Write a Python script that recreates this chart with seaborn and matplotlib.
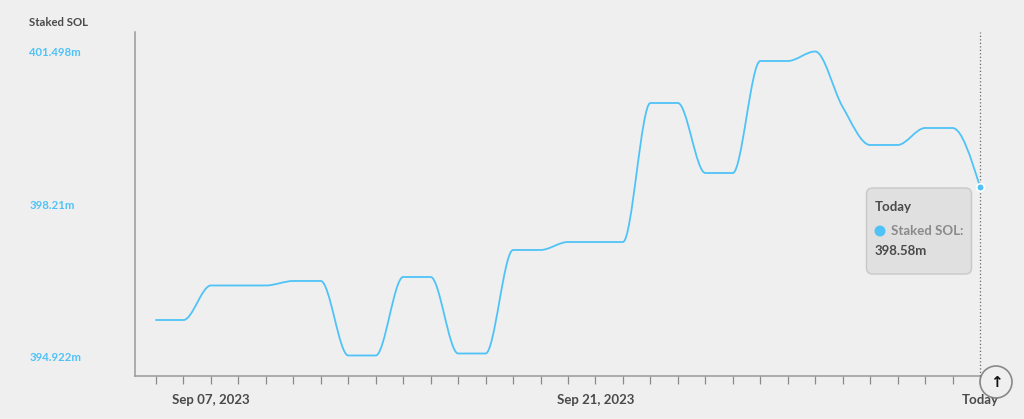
import numpy as np
import pandas as pd
import matplotlib
matplotlib.use("Agg")
import matplotlib.pyplot as plt
import seaborn as sns
from matplotlib.patches import Circle, FancyBboxPatch, PathPatch
from matplotlib.path import Path
from matplotlib.transforms import IdentityTransform

# daily values, millions of SOL
dates = pd.date_range("2023-09-05", "2023-10-05", freq="D")
staked = [395.71, 395.71, 396.454, 396.454, 396.454, 396.551, 396.551, 394.945,
          394.945, 396.637, 396.637, 394.988, 394.988, 397.219, 397.219, 397.391,
          397.391, 397.391, 400.387, 400.387, 398.878, 398.878, 401.292, 401.292,
          401.497, 400.301, 399.482, 399.482, 399.848, 399.848, 398.58]
y_ticks = [394.922, 398.21, 401.498]
y_labels = ["394.922m", "398.21m", "401.498m"]
x_labels = {"2023-09-07": "Sep 07, 2023", "2023-09-21": "Sep 21, 2023", "2023-10-05": "Today"}

BLUE = "#4fc3f7"
BG = "#efefef"
DARK = "#4a4a4a"
W, H = 1024, 419
FONT = "Lato"

sns.set_theme(style="white", rc={"figure.facecolor": BG, "axes.facecolor": BG})
plt.rcParams["font.family"] = [FONT, "DejaVu Sans"]


def monotone_path(xy):
    # same curve the chart library uses between daily points
    x, y = xy[:, 0], xy[:, 1]
    h = np.diff(x)
    s = np.diff(y) / h
    t = np.zeros(len(x))
    for i in range(1, len(x) - 1):
        p = (s[i - 1] * h[i] + s[i] * h[i - 1]) / (h[i - 1] + h[i])
        t[i] = (np.sign(s[i - 1]) + np.sign(s[i])) * min(abs(s[i - 1]), abs(s[i]), 0.5 * abs(p))
    t[0] = (3 * s[0] - t[1]) / 2
    t[-1] = (3 * s[-1] - t[-2]) / 2
    verts = [(x[0], y[0])]
    codes = [Path.MOVETO]
    for i in range(len(h)):
        verts += [(x[i] + h[i] / 3, y[i] + h[i] * t[i] / 3),
                  (x[i + 1] - h[i] / 3, y[i + 1] - h[i] * t[i + 1] / 3),
                  (x[i + 1], y[i + 1])]
        codes += [Path.CURVE4] * 3
    return Path(verts, codes)


fig = plt.figure(figsize=(W / 100, H / 100), dpi=100)
ax = fig.add_axes([135 / W, (H - 376) / H, (980 - 135) / W, (376 - 32) / H])

df = pd.DataFrame({"date": dates, "staked": staked})
sns.lineplot(data=df, x="date", y="staked", ax=ax, color=BLUE, linewidth=1.3)
line = ax.lines[0]
ax.add_patch(PathPatch(monotone_path(line.get_xydata()), facecolor="none",
                       edgecolor=BLUE, linewidth=1.3, capstyle="round"))
line.remove()

ax.axvline(dates[-1], color="#666666", linestyle=(0, (1, 1.8)), linewidth=0.9, clip_on=False, zorder=3)
sns.scatterplot(data=df.tail(1), x="date", y="staked", ax=ax, color=BLUE, s=30,
                edgecolor="white", linewidth=1.2, zorder=5, clip_on=False)

day = 1 / 27.47
ax.set_xlim(matplotlib.dates.date2num(dates[0]) - 21 * day, matplotlib.dates.date2num(dates[-1]))
ax.set_ylim(394.503, 401.917)
ax.set_xlabel("")
ax.set_ylabel("")

sns.despine(ax=ax)
for side in ["left", "bottom"]:
    ax.spines[side].set_color("#9a9a9a")
    ax.spines[side].set_linewidth(1.1)

ax.set_xticks(dates)
ax.set_xticklabels([x_labels.get(str(d.date()), "") for d in dates],
                   fontsize=9.5, fontweight="bold", color=DARK)
ax.tick_params(axis="x", bottom=True, length=6, width=0.9, color="#8a8a8a", pad=7)

ax.set_yticks(y_ticks)
ax.set_yticklabels(y_labels, fontsize=8.2, fontweight="bold", color=BLUE, ha="left")
ax.tick_params(axis="y", left=False, length=0, pad=76)
for tick in ax.get_yticklabels():
    tick.set_y(tick.get_position()[1])

px = IdentityTransform()


def label(x, y, s, **kw):
    fig.text(x / W, (H - y) / H, s, va="center", **kw)


label(29, 23, "Staked SOL", fontsize=8.2, fontweight="bold", color=DARK)

# tooltip
fig.add_artist(FancyBboxPatch((866.5, H - 274), 105, 86, boxstyle="round,pad=0,rounding_size=6",
                              mutation_aspect=1, transform=px, facecolor="#e0e0e0",
                              edgecolor="#c8c8c8", linewidth=1, zorder=6))
fig.add_artist(Circle((880, H - 231), 5.5, transform=px, facecolor=BLUE, edgecolor="none", zorder=7))
label(875, 207, "Today", fontsize=9.5, fontweight="bold", color=DARK, zorder=7)
label(891, 231, "Staked SOL:", fontsize=9.5, fontweight="bold", color="#8a8a8a", zorder=7)
label(875, 251, "398.58m", fontsize=9.5, fontweight="bold", color=DARK, zorder=7)

# scroll-to-top button
fig.add_artist(Circle((996, H - 382), 16, transform=px, facecolor=BG, edgecolor="#777777",
                      linewidth=1.2, zorder=8, alpha=0.85))
fig.text(996 / W, (H - 382) / H, "\u2191", ha="center", va="center", fontsize=11,
         fontweight="bold", color="#111111", family="DejaVu Sans", zorder=9)

fig.savefig("out.png", dpi=100, facecolor=BG)
